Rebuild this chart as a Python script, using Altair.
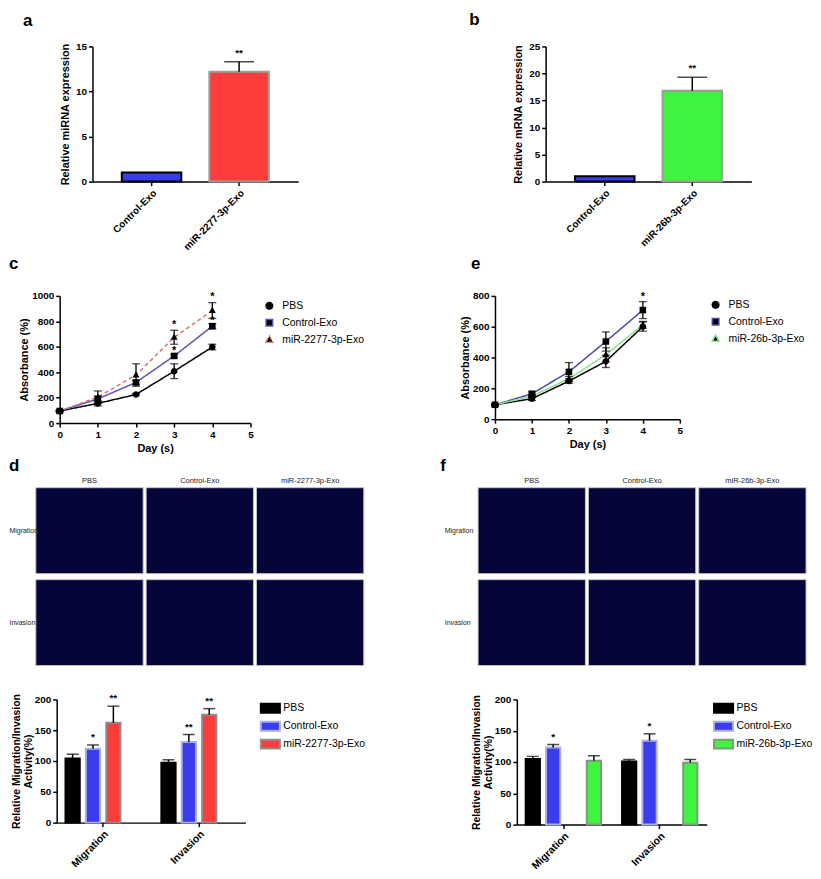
import altair as alt
import pandas as pd

FONT = "Liberation Sans"

# ---------------- data ----------------
# panel a
a_cats = ["Control-Exo", "miR-2277-3p-Exo"]
a_vals = [1.0, 12.2]
a_errs = [0.0, 1.1]
a_sig = ["", "**"]
# panel b
b_cats = ["Control-Exo", "miR-26b-3p-Exo"]
b_vals = [1.0, 16.8]
b_errs = [0.0, 2.5]
b_sig = ["", "**"]

# panel c
days = [0, 1, 2, 3, 4]
c_series = ["PBS", "Control-Exo", "miR-2277-3p-Exo"]
c_pbs = [95, 155, 225, 408, 598]
c_pbs_err = [6, 20, 8, 58, 22]
c_ctrl = [95, 190, 320, 528, 762]
c_ctrl_err = [6, 22, 15, 12, 20]
c_mir = [95, 205, 378, 675, 885]
c_mir_err = [6, 48, 88, 55, 62]
c_star_day = [3, 3, 4, 4]
c_star_val = [775, 568, 990, 800]

# panel e
e_series = ["PBS", "Control-Exo", "miR-26b-3p-Exo"]
e_pbs = [93, 133, 247, 375, 601]
e_pbs_err = [6, 12, 15, 40, 30]
e_ctrl = [93, 165, 307, 504, 708]
e_ctrl_err = [6, 12, 60, 62, 55]
e_mir = [93, 150, 262, 418, 612]
e_mir_err = [6, 10, 15, 45, 22]
e_star_day = [4]
e_star_val = [795]

# panels d / f (images)
img_rows = ["Migration", "Invasion"]
d_img_cols = ["PBS", "Control-Exo", "miR-2277-3p-Exo"]
f_img_cols = ["PBS", "Control-Exo", "miR-26b-3p-Exo"]

# panels d / f (bars)
groups = ["Migration", "Invasion"]
d_series = ["PBS", "Control-Exo", "miR-2277-3p-Exo"]
d_mig = [104, 120, 162]
d_mig_err = [7, 6, 27]
d_mig_sig = ["", "*", "**"]
d_inv = [97, 131, 175]
d_inv_err = [5, 12, 10]
d_inv_sig = ["", "**", "**"]

f_series = ["PBS", "Control-Exo", "miR-26b-3p-Exo"]
f_mig = [105, 123, 102]
f_mig_err = [4, 5, 8]
f_mig_sig = ["", "*", ""]
f_inv = [101, 134, 99]
f_inv_err = [3, 11, 5]
f_inv_sig = ["", "*", ""]

BLUE = "#3b3bef"
RED = "#fd3c3c"
GREEN = "#3ef43e"
IMG = "#05053a"

LINE_SYM = "M-1.4,0H1.4"
CIRCLE = "M-0.55,0A0.55,0.55,0,1,1,0.55,0A0.55,0.55,0,1,1,-0.55,0Z"
SQUARE = "M-0.55,-0.55H0.55V0.55H-0.55Z"
TRI = "M0,-0.62L0.58,0.42H-0.58Z"
BOX_SYM = "M-1.6,-0.75H1.6V0.75H-1.6Z"


def letter(text, dx, dy):
    return alt.TitleParams(text=text, anchor="start", frame="group", dx=dx, dy=dy, offset=0,
                           fontSize=17, fontWeight="bold", font=FONT, color="black")


def spacer(w, h=1, title=None):
    ch = alt.Chart(pd.DataFrame({"z": [0]})).transform_filter("false").mark_point(
        opacity=0).properties(width=w, height=h)
    if title is not None:
        ch = ch.properties(title=title)
    return ch


def exprbar(cats, vals, errs, sig, fills, strokes, ymax, ystep, ytitle, width, height, ttl=None):
    df = pd.DataFrame({"cat": cats, "val": vals, "err": errs, "sig": sig})
    df["top"] = df["val"] + df["err"]
    x = alt.X("cat:N", sort=cats, scale=alt.Scale(paddingInner=0.32, paddingOuter=0.335),
              axis=alt.Axis(title=None, labelAngle=-45, labelFontSize=10))
    ysc = alt.Scale(domain=[0, ymax], nice=False)
    yax = alt.Axis(values=list(range(0, ymax + 1, ystep)), title=ytitle, titlePadding=5,
                   labelOverlap=False, format="d")
    base = alt.Chart(df)
    bars = base.mark_bar(strokeWidth=2).encode(
        x=x,
        y=alt.Y("val:Q", scale=ysc, axis=yax, title=ytitle),
        fill=alt.Fill("cat:N", scale=alt.Scale(domain=cats, range=fills), legend=None),
        stroke=alt.Stroke("cat:N", scale=alt.Scale(domain=cats, range=strokes), legend=None),
    )
    err = base.transform_filter("datum.err > 0").mark_rule(color="black", strokeWidth=1.5).encode(
        x=x, y=alt.Y("val:Q", scale=ysc, axis=yax, title=ytitle), y2="top:Q")
    cap = base.transform_filter("datum.err > 0").mark_tick(
        color="black", thickness=1.5, size=30, orient="horizontal").encode(
        x=x, y=alt.Y("top:Q", scale=ysc, axis=yax, title=ytitle))
    star = base.transform_filter("datum.err > 0").mark_text(
        font=FONT, fontSize=10, fontWeight="bold", baseline="bottom", dy=-4, color="black").encode(
        x=x, y=alt.Y("top:Q", scale=ysc, axis=yax, title=ytitle), text="sig:N")
    ch = alt.layer(bars, err, cap, star).properties(width=width, height=height)
    if ttl is not None:
        ch = ch.properties(title=ttl)
    return ch


def growth(series, vals, errs, colors, dashes, sday, sval, ymax, ystep, width, height,
           legx, legy, ttl):
    rows = []
    for s, v, e in zip(series, vals, errs):
        for d, vv, ee in zip(days, v, e):
            rows.append({"s": s, "s2": s, "day": d, "v": vv, "lo": vv - ee, "hi": vv + ee})
    df = pd.DataFrame(rows)
    sdf = pd.DataFrame({"day": sday, "v": sval, "t": ["*"] * len(sday)})
    x = alt.X("day:Q", scale=alt.Scale(domain=[0, 5], nice=False),
              axis=alt.Axis(values=[0, 1, 2, 3, 4, 5], title="Day (s)", titlePadding=4,
                            labelOverlap=False, format="d"))
    ysc = alt.Scale(domain=[0, ymax], nice=False)
    yt = "Absorbance (%)"
    yax = alt.Axis(values=list(range(0, ymax + 1, ystep)), title=yt, titlePadding=2,
                   labelOverlap=False, format="d")
    leg1 = alt.Legend(title=None, orient="none", legendX=legx, legendY=legy, symbolType=LINE_SYM,
                      symbolSize=144, symbolStrokeWidth=1.5, labelFontSize=10.5, labelFont=FONT,
                      labelOffset=6, rowPadding=3, labelColor="black")
    leg2 = alt.Legend(title=None, orient="none", legendX=legx, legendY=legy, symbolSize=144,
                      symbolFillColor="black", symbolStrokeWidth=0, labelFontSize=10.5,
                      labelFont=FONT, labelOffset=6, rowPadding=3, labelColor="transparent")
    base = alt.Chart(df)
    line = base.mark_line(strokeWidth=1.5).encode(
        x=x, y=alt.Y("v:Q", scale=ysc, axis=yax, title=yt),
        color=alt.Color("s:N", scale=alt.Scale(domain=series, range=colors), legend=leg1),
        strokeDash=alt.StrokeDash("s:N", scale=alt.Scale(domain=series, range=dashes), legend=leg1),
    )
    err = base.mark_rule(color="black", strokeWidth=1.3).encode(
        x=x, y=alt.Y("lo:Q", scale=ysc, axis=yax, title=yt), y2="hi:Q")
    cap_lo = base.mark_tick(color="black", thickness=1.3, size=8, orient="horizontal").encode(
        x=x, y=alt.Y("lo:Q", scale=ysc, axis=yax, title=yt))
    cap_hi = base.mark_tick(color="black", thickness=1.3, size=8, orient="horizontal").encode(
        x=x, y=alt.Y("hi:Q", scale=ysc, axis=yax, title=yt))
    pts = base.mark_point(filled=True, size=144, opacity=1, color="black").encode(
        x=x, y=alt.Y("v:Q", scale=ysc, axis=yax, title=yt),
        shape=alt.Shape("s2:N", scale=alt.Scale(domain=series, range=[CIRCLE, SQUARE, TRI]), legend=leg2),
    )
    star = alt.Chart(sdf).mark_text(font=FONT, fontSize=11, fontWeight="bold", baseline="middle",
                                    color="black").encode(
        x=x, y=alt.Y("v:Q", scale=ysc, axis=yax, title=yt), text="t:N")
    return alt.layer(line, err, cap_lo, cap_hi, pts, star).properties(
        width=width, height=height, title=ttl)


def imgpanel(cols, lab_pad, ttl, width=330, height=179):
    df = pd.DataFrame([{"c": c, "r": r} for r in img_rows for c in cols])
    return alt.Chart(df).mark_rect(fill=IMG, stroke="#c4c4c4", strokeWidth=1).encode(
        x=alt.X("c:N", sort=cols, scale=alt.Scale(paddingInner=0.027, paddingOuter=0),
                axis=alt.Axis(orient="top", title=None, domain=False, ticks=False, labelAngle=0,
                              labelFontWeight="normal", labelFontSize=7.5, labelPadding=3,
                              labelColor="#222222")),
        y=alt.Y("r:N", sort=img_rows, scale=alt.Scale(paddingInner=0.065, paddingOuter=0),
                axis=alt.Axis(title=None, domain=False, ticks=False, labelFontWeight="normal",
                              labelFontSize=7, labelAlign="left", labelPadding=lab_pad,
                              labelColor="#222222")),
    ).properties(width=width, height=height, title=ttl)


def migbar(series, mv, me, ms, iv, ie, isg, fills, strokes, width, height, legx, legy):
    rows = []
    for g, vals, errs, sigs in [("Migration", mv, me, ms), ("Invasion", iv, ie, isg)]:
        for s, v, e, sg in zip(series, vals, errs, sigs):
            rows.append({"g": g, "s": s, "v": v, "top": v + e, "sig": sg})
    df = pd.DataFrame(rows)
    yt = ["Relative Migration/Invasion", "Activity(%)"]
    x = alt.X("g:N", sort=groups, scale=alt.Scale(paddingInner=0.15, paddingOuter=0.06),
              axis=alt.Axis(title=None, labelAngle=-45, labelFontSize=10.5))
    xo = alt.XOffset("s:N", sort=series, scale=alt.Scale(domain=series, paddingInner=0.3, paddingOuter=0.15))
    ysc = alt.Scale(domain=[0, 200], nice=False)
    yax = alt.Axis(values=[0, 50, 100, 150, 200], title=yt, titleFontSize=10.5, titlePadding=1,
                   titleLineHeight=12, labelOverlap=False, format="d")
    leg = alt.Legend(title=None, orient="none", legendX=legx, legendY=legy, symbolType=BOX_SYM,
                     symbolSize=144, symbolStrokeWidth=2, labelFontSize=10.5, labelFont=FONT,
                     labelOffset=6, rowPadding=0, labelColor="black")
    base = alt.Chart(df)
    bars = base.mark_bar(strokeWidth=2).encode(
        x=x, xOffset=xo, y=alt.Y("v:Q", scale=ysc, axis=yax, title=yt),
        fill=alt.Fill("s:N", scale=alt.Scale(domain=series, range=fills), legend=leg),
        stroke=alt.Stroke("s:N", scale=alt.Scale(domain=series, range=strokes), legend=leg),
    )
    err = base.mark_rule(color="black", strokeWidth=1.5).encode(
        x=x, xOffset=xo, y=alt.Y("v:Q", scale=ysc, axis=yax, title=yt), y2="top:Q")
    cap = base.mark_tick(color="black", thickness=1.5, size=12, orient="horizontal").encode(
        x=x, xOffset=xo, y=alt.Y("top:Q", scale=ysc, axis=yax, title=yt))
    star = base.mark_text(font=FONT, fontSize=10, fontWeight="bold", baseline="bottom", dy=-3,
                          color="black").encode(
        x=x, xOffset=xo, y=alt.Y("top:Q", scale=ysc, axis=yax, title=yt), text="sig:N")
    return alt.layer(bars, err, cap, star).properties(width=width, height=height)


RES = dict(color="independent", fill="independent", stroke="independent",
           shape="independent", strokeDash="independent")


def row(*charts):
    return alt.hconcat(*charts, spacing=0).resolve_scale(**RES).resolve_legend(**RES)


pa = exprbar(a_cats, a_vals, a_errs, a_sig, [BLUE, RED], ["#000000", "#9c9c9c"], 15, 5,
             "Relative miRNA expression", 207, 136, ttl=letter("a", -70, -12))
pb = exprbar(b_cats, b_vals, b_errs, b_sig, [BLUE, GREEN], ["#000000", "#9c9c9c"], 25, 5,
             "Relative mRNA expression", 207, 136)

pc = growth(c_series, [c_pbs, c_ctrl, c_mir], [c_pbs_err, c_ctrl_err, c_mir_err],
            ["#000000", "#5656b4", "#e07070"], [[1, 0], [1, 0], [4, 3]],
            c_star_day, c_star_val, 1000, 200, 192, 128, 204, 3, letter("c", -51, -18))
pe = growth(e_series, [e_pbs, e_ctrl, e_mir], [e_pbs_err, e_ctrl_err, e_mir_err],
            ["#000000", "#4a4aa8", "#8ee08e"], [[1, 0], [1, 0], [1, 0]],
            e_star_day, e_star_val, 800, 200, 186, 124, 215, 2, letter("e", -24, -18))

pdi = imgpanel(d_img_cols, 27, letter("d", -27, -2))
pfi = imgpanel(f_img_cols, 34, letter("f", -38, -2))

pdb = migbar(d_series, d_mig, d_mig_err, d_mig_sig, d_inv, d_inv_err, d_inv_sig,
             ["#000000", BLUE, RED], ["#000000", "#a9b1e2", "#8e8e8e"], 190, 124, 208, 2)
pfb = migbar(f_series, f_mig, f_mig_err, f_mig_sig, f_inv, f_inv_err, f_inv_sig,
             ["#000000", BLUE, GREEN], ["#000000", "#a9b1e2", "#7f9a7f"], 191, 126, 201, 2)

r1 = row(spacer(15), pa, spacer(215, title=letter("b", 172, -18)), pb)
r2 = row(spacer(1), pc, spacer(95), pe)
r3 = row(spacer(1), pdi, spacer(76), pfi)
r4 = row(spacer(3), pdb, spacer(106), pfb)

chart = alt.vconcat(r1, spacer(1, 2), r2, spacer(1, 3), r3, spacer(1, 26), r4, spacing=0)
chart = chart.resolve_scale(**RES).resolve_legend(**RES).properties(padding=0)
chart = chart.configure(font=FONT).configure_view(stroke=None).configure_axis(
    domainColor="black", domainWidth=1.5, tickColor="black", tickWidth=1.5, tickSize=4,
    labelColor="black", labelFont=FONT, labelFontWeight="bold", labelFontSize=10,
    titleFont=FONT, titleFontWeight="bold", titleFontSize=11, titleColor="black",
    grid=False, labelPadding=2, labelFlush=False, labelOverlap=False)

chart.save("out.html", embed_options={"renderer": "svg", "actions": False})
